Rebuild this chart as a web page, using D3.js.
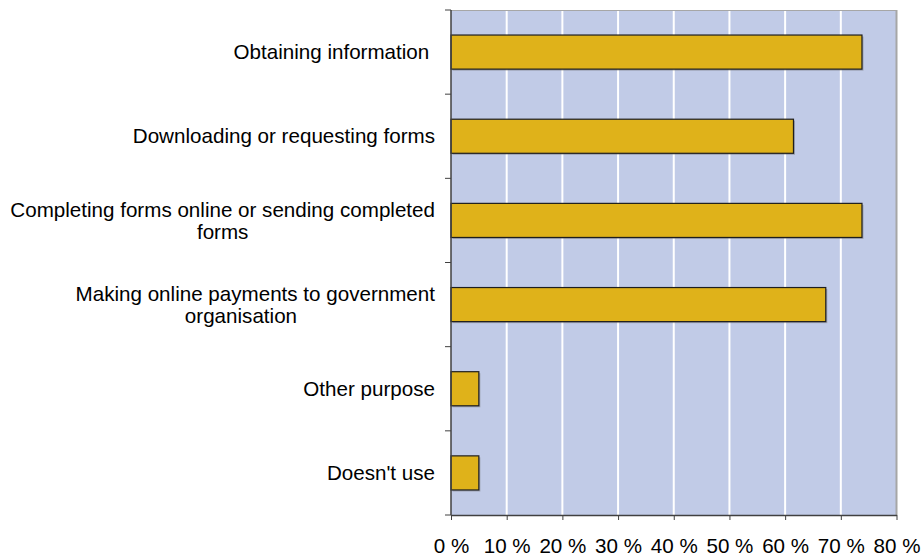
<!DOCTYPE html>
<html>
<head>
<meta charset="utf-8">
<script src="https://cdn.jsdelivr.net/npm/d3@7"></script>
<style>
  html, body { margin: 0; padding: 0; background: #ffffff; }
  svg { display: block; font-family: "Liberation Sans", Arial, sans-serif; }
  text { white-space: pre; }
</style>
</head>
<body>
<svg id="chart" width="922" height="558"></svg>
<script>
// Purposes of using government websites (share of respondents, %)
const categories = [
  "Obtaining information ",
  "Downloading or requesting forms",
  "Completing forms online or sending completed\nforms",
  "Making online payments to government\norganisation     ",
  "Other purpose",
  "Doesn't use"
];
const values = [73.8, 61.5, 73.8, 67.3, 5.0, 5.0];
const xTicks = [0, 10, 20, 30, 40, 50, 60, 70, 80];

const svg = d3.select("#chart");
const plot = { left: 451, right: 896.5, top: 10, bottom: 515 };
const fontSize = 20.6;

const x = d3.scaleLinear().domain([0, 80]).range([plot.left, plot.right]);
const y = d3.scaleBand()
  .domain(categories)
  .range([plot.top, plot.bottom])
  .paddingInner(0.595)
  .paddingOuter(0.2975);

// plot background
svg.append("rect")
  .attr("x", plot.left).attr("y", plot.top)
  .attr("width", plot.right - plot.left).attr("height", plot.bottom - plot.top)
  .attr("fill", "#c1cbe7");

// vertical white gridlines
svg.append("g")
  .selectAll("line")
  .data(xTicks.filter(t => t > 0 && t < 80))
  .join("line")
  .attr("x1", d => x(d)).attr("x2", d => x(d))
  .attr("y1", plot.top).attr("y2", plot.bottom)
  .attr("stroke", "#ffffff").attr("stroke-width", 2);

// top and right frame
svg.append("line")
  .attr("x1", plot.left).attr("x2", plot.right)
  .attr("y1", plot.top + 0.5).attr("y2", plot.top + 0.5)
  .attr("stroke", "#a6a6a6").attr("stroke-width", 1);
svg.append("line")
  .attr("x1", plot.right).attr("x2", plot.right)
  .attr("y1", plot.top).attr("y2", plot.bottom)
  .attr("stroke", "#a6a6a6").attr("stroke-width", 2);

// bars with a soft drop shadow
const bars = svg.append("g");
bars.selectAll("rect.shadow")
  .data(values)
  .join("rect")
  .attr("class", "shadow")
  .attr("x", x(0) + 1.5)
  .attr("y", (d, i) => y(categories[i]) + 1.5)
  .attr("width", d => x(d) - x(0))
  .attr("height", y.bandwidth())
  .attr("fill", "#6b6b6b").attr("opacity", 0.45);
bars.selectAll("rect.bar")
  .data(values)
  .join("rect")
  .attr("class", "bar")
  .attr("x", x(0))
  .attr("y", (d, i) => y(categories[i]))
  .attr("width", d => x(d) - x(0))
  .attr("height", y.bandwidth())
  .attr("fill", "#dfb21a")
  .attr("stroke", "#1e1e1e").attr("stroke-width", 1.2);

// x axis
const xAxis = svg.append("g")
  .attr("transform", `translate(0,${plot.bottom})`)
  .call(d3.axisBottom(x).tickValues(xTicks).tickFormat(d => d + " %")
    .tickSizeInner(5).tickSizeOuter(0).tickPadding(18.5));
xAxis.select(".domain").attr("stroke", "#404040").attr("stroke-width", 1.5);
xAxis.selectAll(".tick line").attr("stroke", "#404040");
xAxis.selectAll(".tick text")
  .attr("font-size", fontSize).attr("fill", "#000")
  .attr("font-family", "Liberation Sans, Arial, sans-serif");

// y axis line and boundary ticks
svg.append("line")
  .attr("x1", plot.left).attr("x2", plot.left)
  .attr("y1", plot.top).attr("y2", plot.bottom)
  .attr("stroke", "#404040").attr("stroke-width", 1.5);
const gap = (y.step() - y.bandwidth()) / 2;
const boundaries = categories.map(c => y(c) - gap).concat([y(categories[categories.length - 1]) + y.bandwidth() + gap]);
svg.append("g")
  .selectAll("line")
  .data(boundaries)
  .join("line")
  .attr("x1", plot.left - 6).attr("x2", plot.left)
  .attr("y1", d => d).attr("y2", d => d)
  .attr("stroke", "#404040").attr("stroke-width", 1);

// category labels, multi-line labels centred on their widest line
const labelRight = plot.left - 16;
const lineGap = 22;
const labels = svg.append("g").attr("font-size", fontSize).attr("fill", "#000");
categories.forEach(c => {
  const lines = c.split("\n");
  const cy = y(c) + y.bandwidth() / 2;
  const g = labels.append("g");
  const texts = lines.map((ln, i) => g.append("text")
    .attr("y", cy + (i - (lines.length - 1) / 2) * lineGap)
    .attr("dy", "0.35em")
    .text(ln));
  if (lines.length === 1) {
    texts[0].attr("x", labelRight).attr("text-anchor", "end");
  } else {
    const widths = texts.map(t => t.node().getComputedTextLength());
    const w = d3.max(widths);
    const cx = labelRight - w / 2;
    texts.forEach(t => t.attr("x", cx).attr("text-anchor", "middle"));
  }
});
</script>
</body>
</html>
